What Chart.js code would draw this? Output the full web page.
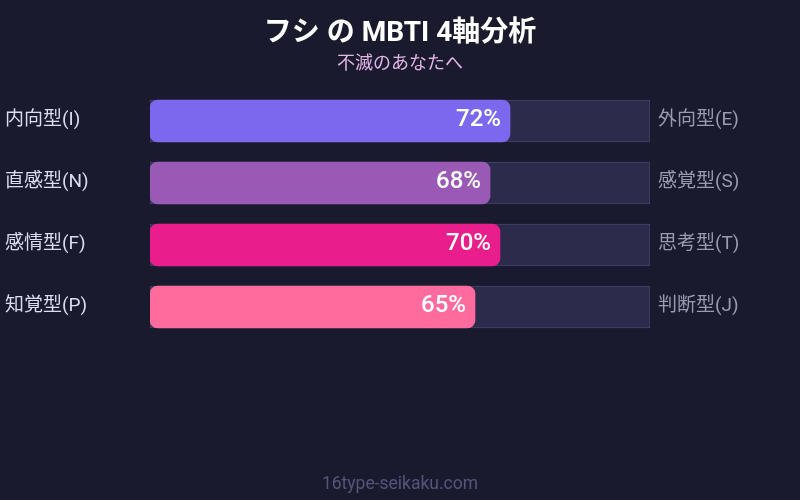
<!DOCTYPE html>
<html>
<head>
<meta charset="utf-8">
<script src="https://cdn.jsdelivr.net/npm/chart.js@4/dist/chart.umd.min.js"></script>
<style>
  html, body { margin: 0; padding: 0; background: #1a1a2e; }
  #wrap { width: 800px; height: 500px; position: relative; }
</style>
</head>
<body>
<div id="wrap"><canvas id="c" width="800" height="500"></canvas></div>
<script>
const titleText = "フシ の MBTI 4軸分析";
const subtitleText = "不滅のあなたへ";
const footerText = "16type-seikaku.com";
const leftLabels = ["内向型(I)", "直感型(N)", "感情型(F)", "知覚型(P)"];
const rightLabels = ["外向型(E)", "感覚型(S)", "思考型(T)", "判断型(J)"];
const values = [72, 68, 70, 65];
const trackValues = [100, 100, 100, 100];
const barColors = ["#7b68ee", "#9b59b6", "#e91e8c", "#ff6b9d"];

const FONT = "Roboto, 'Noto Sans CJK JP', sans-serif";

const textPlugin = {
  id: 'texts',
  beforeDraw(chart) {
    const ctx = chart.ctx;
    ctx.save();
    ctx.fillStyle = '#1a1a2e';
    ctx.fillRect(0, 0, chart.width, chart.height);
    ctx.restore();
  },
  afterDatasetsDraw(chart) {
    const ctx = chart.ctx;
    const y = chart.scales.y;
    const meta = chart.getDatasetMeta(0);
    ctx.save();
    ctx.textBaseline = 'middle';
    ctx.textAlign = 'center';
    ctx.fillStyle = '#ffffff';
    ctx.font = "bold 28px " + FONT;
    ctx.fillText(titleText, 400, 34);
    ctx.fillStyle = '#e2b6e6';
    ctx.font = "18px " + FONT;
    ctx.fillText(subtitleText, 400, 64);
    ctx.fillStyle = '#55557a';
    ctx.font = "17.5px " + FONT;
    ctx.fillText(footerText, 400, 485);
    leftLabels.forEach((lab, i) => {
      const py = y.getPixelForValue(i);
      ctx.textAlign = 'left';
      ctx.fillStyle = '#dcdcf0';
      ctx.font = "19px " + FONT;
      ctx.fillText(lab, 5, py - 1);
      ctx.fillStyle = '#9a9ab2';
      ctx.fillText(rightLabels[i], 658, py - 1);
      const bar = meta.data[i];
      ctx.textAlign = 'right';
      ctx.fillStyle = '#ffffff';
      ctx.font = "500 24px " + FONT;
      ctx.fillText(values[i] + '%', bar.x - 9, py - 1);
    });
    ctx.restore();
  }
};

new Chart(document.getElementById('c'), {
  type: 'bar',
  data: {
    labels: leftLabels,
    datasets: [
      {
        data: values,
        backgroundColor: barColors,
        borderRadius: 8,
        borderSkipped: false,
        barThickness: 42,
        grouped: false
      },
      {
        data: trackValues,
        backgroundColor: '#2d2b4b',
        borderColor: '#45436a',
        borderWidth: 1,
        borderSkipped: false,
        barThickness: 42,
        grouped: false
      }
    ]
  },
  options: {
    indexAxis: 'y',
    responsive: false,
    animation: false,
    devicePixelRatio: 1,
    layout: { padding: { left: 150, right: 150, top: 90, bottom: 162 } },
    scales: {
      x: { display: false, min: 0, max: 100 },
      y: { display: false }
    },
    plugins: { legend: { display: false }, tooltip: { enabled: false }, title: { display: false } }
  },
  plugins: [textPlugin]
});
</script>
</body>
</html>
